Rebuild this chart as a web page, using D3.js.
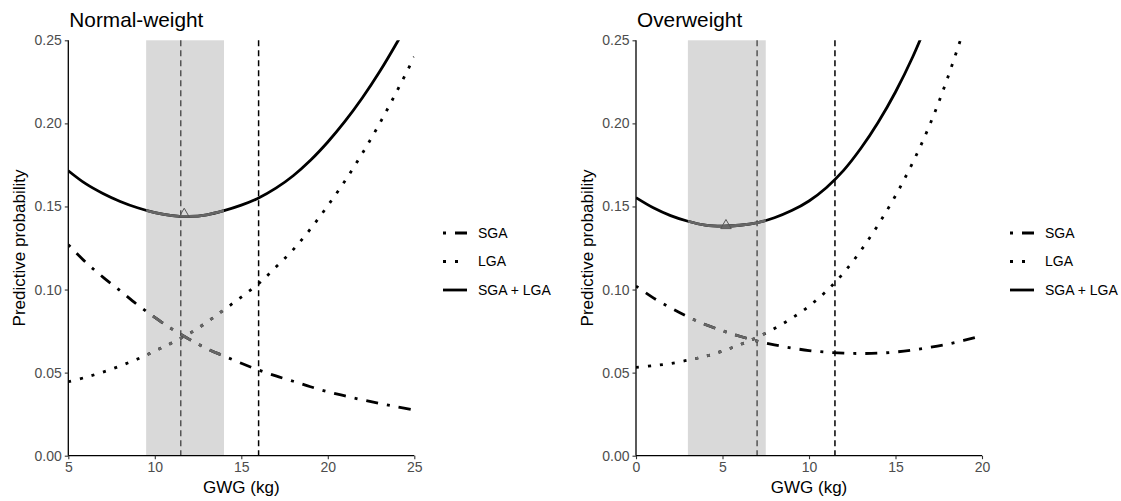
<!DOCTYPE html>
<html>
<head>
<meta charset="utf-8">
<script src="https://cdn.jsdelivr.net/npm/d3@7"></script>
<style>
  body { margin: 0; background: #fff; }
  svg { font-family: "Liberation Sans", Arial, sans-serif; }
</style>
</head>
<body>
<div id="chart"></div>
<script>
// Normal-weight panel (GWG 5-25 kg)
const nwGwg   = [5, 6, 7, 8, 9, 10, 11, 12, 13, 14, 15, 16, 17, 18, 19, 20, 21, 22, 23, 24, 25];
const nwSga   = [0.127, 0.1165, 0.1075, 0.0993, 0.0908, 0.0832, 0.0762, 0.0700, 0.0645, 0.0600, 0.0556,
                 0.0516, 0.0480, 0.0448, 0.0415, 0.0385, 0.0360, 0.0336, 0.0314, 0.0294, 0.0275];
const nwLga   = [0.0445, 0.0472, 0.0503, 0.0540, 0.0582, 0.0630, 0.0680, 0.0735, 0.0803, 0.0878, 0.0955,
                 0.1035, 0.1135, 0.1240, 0.1365, 0.1505, 0.1655, 0.1820, 0.2000, 0.2195, 0.2400];
const nwTotal = [0.1715, 0.1637, 0.1578, 0.1530, 0.1492, 0.1463, 0.1445, 0.1440, 0.1450, 0.1475, 0.1508,
                 0.1551, 0.1610, 0.1685, 0.1778, 0.1888, 0.2013, 0.2154, 0.2312, 0.2487, 0.2675];
const nwBand  = [9.5, 14];
const nwRange = [11.5, 16];   // grey dashed, black dashed
const nwMin   = [11.7, 0.1453];

// Overweight panel (GWG 0-20 kg)
const owGwg   = [0, 1, 2, 3, 4, 5, 6, 7, 8, 9, 10, 11, 12, 13, 14, 15, 16, 17, 18, 19, 20];
const owSga   = [0.1021, 0.0950, 0.0890, 0.0836, 0.0790, 0.0752, 0.0719, 0.0690, 0.0667, 0.0648, 0.0633,
                 0.0623, 0.0617, 0.0615, 0.0617, 0.0624, 0.0636, 0.0652, 0.0671, 0.0695, 0.0722];
const owLga   = [0.0532, 0.0542, 0.0555, 0.0575, 0.0598, 0.0630, 0.0668, 0.0712, 0.0765, 0.0827, 0.0900,
                 0.0990, 0.1100, 0.1235, 0.1390, 0.1565, 0.1765, 0.1996, 0.2270, 0.2580];
const owTotal = [0.1553, 0.1492, 0.1445, 0.1411, 0.1388, 0.1382, 0.1387, 0.1402, 0.1432, 0.1475, 0.1533,
                 0.1613, 0.1717, 0.1850, 0.2007, 0.2189, 0.2401, 0.2648];
const owBand  = [3, 7.5];
const owRange = [7, 11.5];
const owMin   = [5.2, 0.1385];

const yTicks = [0, 0.05, 0.10, 0.15, 0.20, 0.25];
const legendLabels = ['SGA', 'LGA', 'SGA + LGA'];
const lineDash = ['3,9,12,9', '3,9', null];

const W = 1121, H = 501;
const svg = d3.select('#chart').append('svg').attr('width', W).attr('height', H);

const drawPanel = (cfg) => {
    const x = d3.scaleLinear().domain(cfg.xDomain).range(cfg.xRange);
    const y = d3.scaleLinear().domain([0, 0.25]).range([455.7, 40.3]);
    const g = svg.append('g');

    const clipId = `clip-${cfg.id}`;
    const bandId = `band-${cfg.id}`;
    const defs = svg.append('defs');
    defs.append('clipPath').attr('id', clipId).append('rect')
        .attr('x', x.range()[0]).attr('y', y(0.25))
        .attr('width', x.range()[1] - x.range()[0]).attr('height', y(0) - y(0.25));
    defs.append('clipPath').attr('id', bandId).append('rect')
        .attr('x', x(cfg.band[0])).attr('y', y(0.25))
        .attr('width', x(cfg.band[1]) - x(cfg.band[0])).attr('height', y(0) - y(0.25));

    // recommended range band
    g.append('rect')
        .attr('x', x(cfg.band[0])).attr('y', y(0.25))
        .attr('width', x(cfg.band[1]) - x(cfg.band[0]))
        .attr('height', y(0) - y(0.25))
        .attr('fill', '#d9d9d9');

    // vertical reference lines
    g.selectAll('.vline').data(cfg.vlines).enter().append('line')
        .attr('x1', d => x(d)).attr('x2', d => x(d))
        .attr('y1', y(0.25)).attr('y2', y(0))
        .attr('stroke', (d, i) => (i === 0 ? '#555' : '#000'))
        .attr('stroke-width', 1.5)
        .attr('stroke-dasharray', '6,4');

    const series = [cfg.sga, cfg.lga, cfg.total];
    const line = d3.line().x(d => x(d[0])).y(d => y(d[1])).curve(d3.curveCatmullRom.alpha(0.5));

    const lines = g.append('g').attr('clip-path', `url(#${clipId})`);
    series.forEach((vals, i) => {
        const pts = vals.map((v, j) => [cfg.gwg[j], v]);
        lines.append('path')
            .attr('d', line(pts))
            .attr('fill', 'none')
            .attr('stroke', '#000')
            .attr('stroke-width', 2.8)
            .attr('stroke-dasharray', lineDash[i]);
        // part inside the recommended band is drawn grey
        lines.append('g').attr('clip-path', `url(#${bandId})`).append('path')
            .attr('d', line(pts))
            .attr('fill', 'none')
            .attr('stroke', '#666')
            .attr('stroke-width', 2.8)
            .attr('stroke-dasharray', lineDash[i]);
    });

    // minimum marker
    g.append('path')
        .attr('d', d3.symbol().type(d3.symbolTriangle).size(48)())
        .attr('transform', `translate(${x(cfg.minPt[0])},${y(cfg.minPt[1])})`)
        .attr('fill', 'none')
        .attr('stroke', '#555')
        .attr('stroke-width', 1);

    // axes
    const xAxis = g.append('g')
        .attr('transform', `translate(0,${y(0)})`)
        .call(d3.axisBottom(x).ticks(5).tickSize(3.5).tickPadding(3));
    const yAxis = g.append('g')
        .attr('transform', `translate(${x.range()[0]},0)`)
        .call(d3.axisLeft(y).tickValues(yTicks).tickFormat(d3.format('.2f')).tickSize(3.5).tickPadding(3));
    [xAxis, yAxis].forEach(a => {
        a.select('.domain').attr('stroke', '#000').attr('stroke-width', 1.3);
        a.selectAll('.tick line').attr('stroke', '#333').attr('stroke-width', 1.1);
        a.selectAll('.tick text').attr('fill', '#4d4d4d').style('font-size', '14px')
            .style('font-family', '"Liberation Sans", Arial, sans-serif');
    });
    yAxis.select('.domain').attr('d', `M0,${y(0)}V${y(0.25)}`);
    xAxis.select('.domain').attr('d', `M${x.range()[0]},0H${x.range()[1]}`);

    // titles
    g.append('text')
        .attr('x', x.range()[0] + 1).attr('y', 27)
        .style('font-size', '20.8px').attr('fill', '#000')
        .text(cfg.title);
    g.append('text')
        .attr('x', (x.range()[0] + x.range()[1]) / 2).attr('y', 493)
        .attr('text-anchor', 'middle')
        .style('font-size', '17px').attr('fill', '#000')
        .text('GWG (kg)');
    g.append('text')
        .attr('transform', `translate(${x.range()[0] - 43},${(y(0) + y(0.25)) / 2}) rotate(-90)`)
        .attr('text-anchor', 'middle')
        .style('font-size', '17px').attr('fill', '#000')
        .text('Predictive probability');

    // legend
    const legend = g.append('g').attr('transform', `translate(${cfg.legendX},233)`);
    legendLabels.forEach((lab, i) => {
        const row = legend.append('g').attr('transform', `translate(0,${i * 28.5})`);
        row.append('line')
            .attr('x1', 0).attr('x2', 24).attr('y1', 0).attr('y2', 0)
            .attr('stroke', '#000').attr('stroke-width', 2.8)
            .attr('stroke-dasharray', lineDash[i]);
        row.append('text')
            .attr('x', 35).attr('y', 0).attr('dy', '0.35em')
            .style('font-size', '14px').attr('fill', '#000')
            .text(lab);
    });
};

drawPanel({
    id: 'nw', title: 'Normal-weight',
    xDomain: [5, 25], xRange: [68.3, 414.3],
    gwg: nwGwg, sga: nwSga, lga: nwLga, total: nwTotal,
    band: nwBand, vlines: nwRange, minPt: nwMin, legendX: 443
});

drawPanel({
    id: 'ow', title: 'Overweight',
    xDomain: [0, 20], xRange: [636, 982],
    gwg: owGwg, sga: owSga, lga: owLga, total: owTotal,
    band: owBand, vlines: owRange, minPt: owMin, legendX: 1010
});
</script>
</body>
</html>
